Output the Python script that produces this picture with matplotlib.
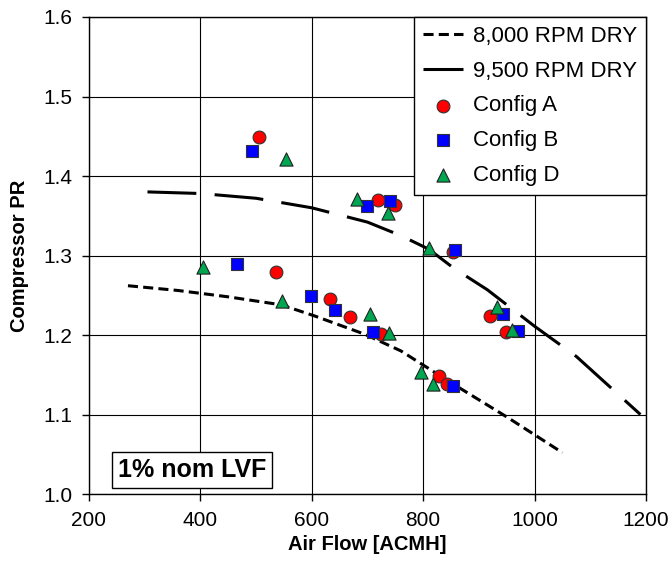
import numpy as np
import matplotlib
matplotlib.use("Agg")
import matplotlib.pyplot as plt

plt.rcParams['font.family'] = ['Liberation Sans', 'DejaVu Sans']

# kõverad (loetud pildilt)
rpm8000_x = [270, 360, 450, 545, 605, 695, 760, 850, 950, 1050]
rpm8000_y = [1.262, 1.256, 1.248, 1.238, 1.224, 1.201, 1.180, 1.140, 1.097, 1.052]

rpm9500_x = [305, 400, 500, 600, 700, 760, 810, 855, 915, 1000, 1075, 1190]
rpm9500_y = [1.380, 1.378, 1.372, 1.360, 1.342, 1.325, 1.308, 1.284, 1.257, 1.211, 1.173, 1.100]

# mõõtepunktid
a_x = [505, 535, 633, 668, 725, 719, 750, 853, 920, 949, 829, 843]
a_y = [1.449, 1.279, 1.245, 1.223, 1.201, 1.370, 1.364, 1.305, 1.224, 1.204, 1.148, 1.139]

b_x = [492, 465, 599, 641, 710, 699, 740, 857, 943, 971, 853]
b_y = [1.432, 1.289, 1.249, 1.232, 1.204, 1.362, 1.369, 1.307, 1.226, 1.205, 1.136]

d_x = [554, 404, 546, 705, 739, 681, 736, 811, 932, 959, 796, 818]
d_y = [1.421, 1.286, 1.243, 1.226, 1.203, 1.371, 1.353, 1.309, 1.235, 1.206, 1.153, 1.139]

fig = plt.figure(figsize=(6.72, 5.61), dpi=100)
ax = fig.add_axes([0.1324, 0.1194, 0.8289, 0.8503])

ax.plot(rpm8000_x, rpm8000_y, color="black", lw=2.2, linestyle=(0, (3.3, 1.7)),
        label="8,000 RPM DRY", zorder=3)
ax.plot(rpm9500_x, rpm9500_y, color="black", lw=2.2, linestyle=(0, (16, 6)),
        label="9,500 RPM DRY", zorder=3)

ax.scatter(a_x, a_y, marker="o", s=85, color="#FF0000", edgecolor="#333333",
           linewidth=0.8, label="Config A", zorder=4)
ax.scatter(b_x, b_y, marker="s", s=80, color="#0000FF", edgecolor="#333333",
           linewidth=0.8, label="Config B", zorder=5)
ax.scatter(d_x, d_y, marker="^", s=90, color="#00A650", edgecolor="#222222",
           linewidth=0.8, label="Config D", zorder=6)

ax.set_xlim(200, 1200)
ax.set_ylim(1.0, 1.6)
ax.set_xticks(np.arange(200, 1201, 200))
ax.set_yticks(np.arange(1.0, 1.61, 0.1))
ax.set_yticklabels([f"{v:.1f}" for v in np.arange(1.0, 1.61, 0.1)])
ax.tick_params(labelsize=15, length=5, width=1, color="black")
ax.tick_params(axis="x", pad=7)
ax.tick_params(axis="y", pad=7)
ax.grid(True, color="black", lw=0.8)
ax.set_axisbelow(True)
for s in ax.spines.values():
    s.set_linewidth(1.0)

ax.set_xlabel("Air Flow [ACMH]", fontsize=14.5, fontweight="bold", labelpad=4)
ax.set_ylabel("Compressor PR", fontsize=14.5, fontweight="bold", labelpad=10)

leg = ax.legend(loc="upper right", fontsize=16, frameon=True, fancybox=False,
                borderaxespad=0, edgecolor="black", framealpha=1,
                handlelength=1.8, handletextpad=0.45, labelspacing=0.62,
                borderpad=0.4)
leg.get_frame().set_linewidth(1.0)

ax.text(0.185, 0.05, "1% nom LVF", transform=ax.transAxes, fontsize=18,
        fontweight="bold", ha="center", va="center",
        bbox=dict(boxstyle="square,pad=0.25", facecolor="white",
                  edgecolor="black", lw=1.0))

fig.savefig("out.png", dpi=100)
